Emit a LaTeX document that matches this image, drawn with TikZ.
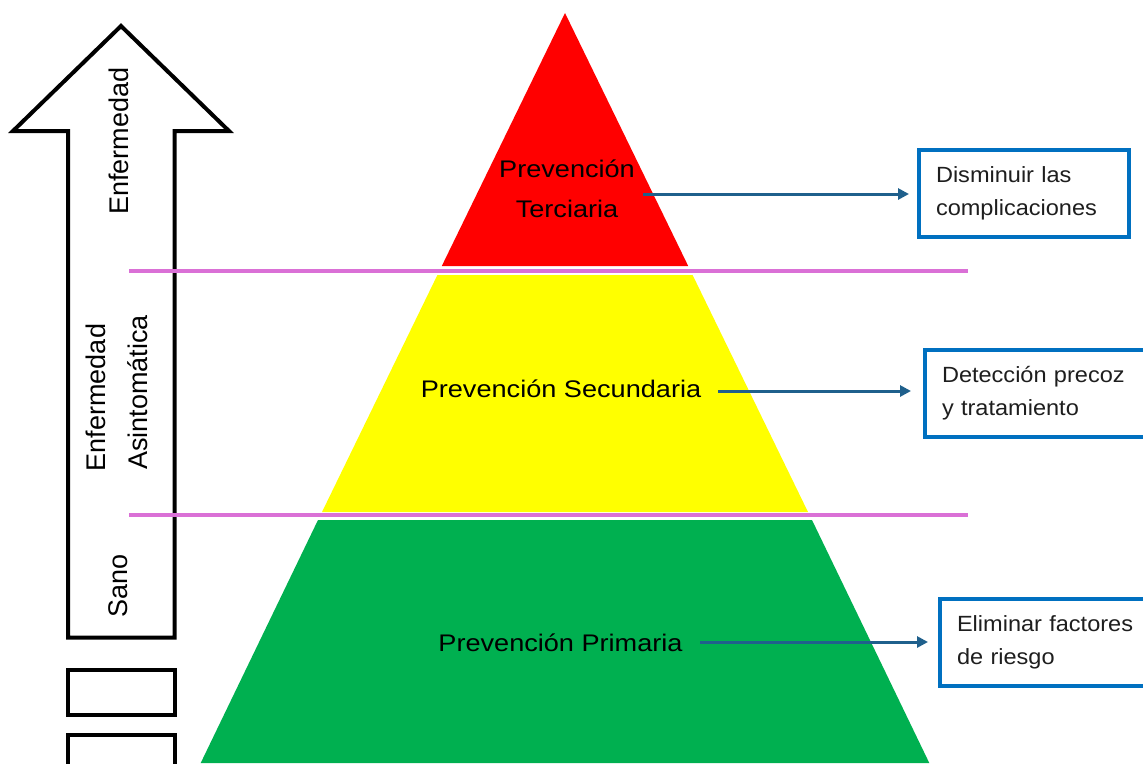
\documentclass[tikz,border=0pt]{standalone}
\usepackage{fontspec}
\setmainfont{Liberation Sans}
\newfontfamily\aptos[FakeStretch=1.13]{Liberation Sans}
\newfontfamily\aptosbox[FakeStretch=1.07]{Liberation Sans}
\usetikzlibrary{arrows.meta}
\definecolor{redlvl}{RGB}{255,0,0}
\definecolor{yellowlvl}{RGB}{255,255,0}
\definecolor{greenlvl}{RGB}{0,176,80}
\definecolor{pinkline}{RGB}{218,112,214}
\definecolor{connblue}{RGB}{31,96,140}
\definecolor{boxblue}{RGB}{0,112,192}
\definecolor{boxtext}{RGB}{30,30,30}
\tikzset{
  outline/.style={draw=black, line width=4pt, miter limit=10},
  sidelabel/.style={rotate=90, font=\fontsize{27}{30}\selectfont, inner sep=0pt},
  lvllabel/.style={font=\aptos\fontsize{24}{40}\selectfont, align=center, inner sep=0pt, text=black},
  goalbox/.style={draw=boxblue, line width=4pt, fill=white, anchor=west, minimum height=87pt,
    inner xsep=17pt, inner ysep=0pt, align=left, text=boxtext,
    font=\aptosbox\fontsize{22}{33}\selectfont},
  conn/.style={draw=connblue, line width=3pt, -{Triangle[length=11pt,width=11pt]}},
  divider/.style={draw=pinkline, line width=4pt},
}
\begin{document}
\begin{tikzpicture}[x=1pt,y=-1pt]
\useasboundingbox (0,0) rectangle (1143,763);
\clip (0,0) rectangle (1143,763);
% pyramid levels
\fill[redlvl] (565,13) -- (688.2,266) -- (441.8,266) -- cycle;
\fill[yellowlvl] (437.4,275) -- (692.6,275) -- (808,512) -- (322,512) -- cycle;
\fill[greenlvl] (318,520) -- (812,520) -- (929.3,763) -- (200.7,763) -- cycle;
% big arrow
\draw[outline] (121,26) -- (229,131) -- (174.5,131) -- (174.5,637.5) -- (68,637.5) -- (68,131) -- (13,131) -- cycle;
% small boxes
\draw[outline] (68,670) rectangle (175,715);
\draw[outline] (68,735) rectangle (175,775);
% dividers
\draw[divider] (129,271) -- (968,271);
\draw[divider] (129,515) -- (968,515);
% side labels
\node[sidelabel] (enf) at (119,141) {Enfermedad};
\node[sidelabel] (enf2) at (96,397.5) {Enfermedad};
\node[sidelabel] (asin) at (137.5,392.5) {Asintomática};
\node[sidelabel] (sano) at (118.5,586) {Sano};
% level labels
\node[lvllabel] (terc) at (567,189) {Prevención\\Terciaria};
\node[lvllabel, anchor=base] (secu) at (561,397) {Prevención Secundaria};
\node[lvllabel, anchor=base] (prim) at (560.5,651) {Prevención Primaria};
% goal boxes
\node[goalbox, text width=176pt] (b1) at (917,193.5) {Disminuir las\\complicaciones};
\node[goalbox, text width=240pt] (b2) at (923,393) {Detección precoz\\y tratamiento};
\node[goalbox, text width=240pt] (b3) at (938,642.5) {Eliminar factores\\de riesgo};
% connectors
\coordinate (s1) at (643,194);
\coordinate (s2) at (718,391);
\coordinate (s3) at (700,642);
\draw[conn, shorten >=8pt] (s1) -- (s1 -| b1.west);
\draw[conn, shorten >=12pt] (s2) -- (s2 -| b2.west);
\draw[conn, shorten >=10pt] (s3) -- (s3 -| b3.west);
\end{tikzpicture}
\end{document}
